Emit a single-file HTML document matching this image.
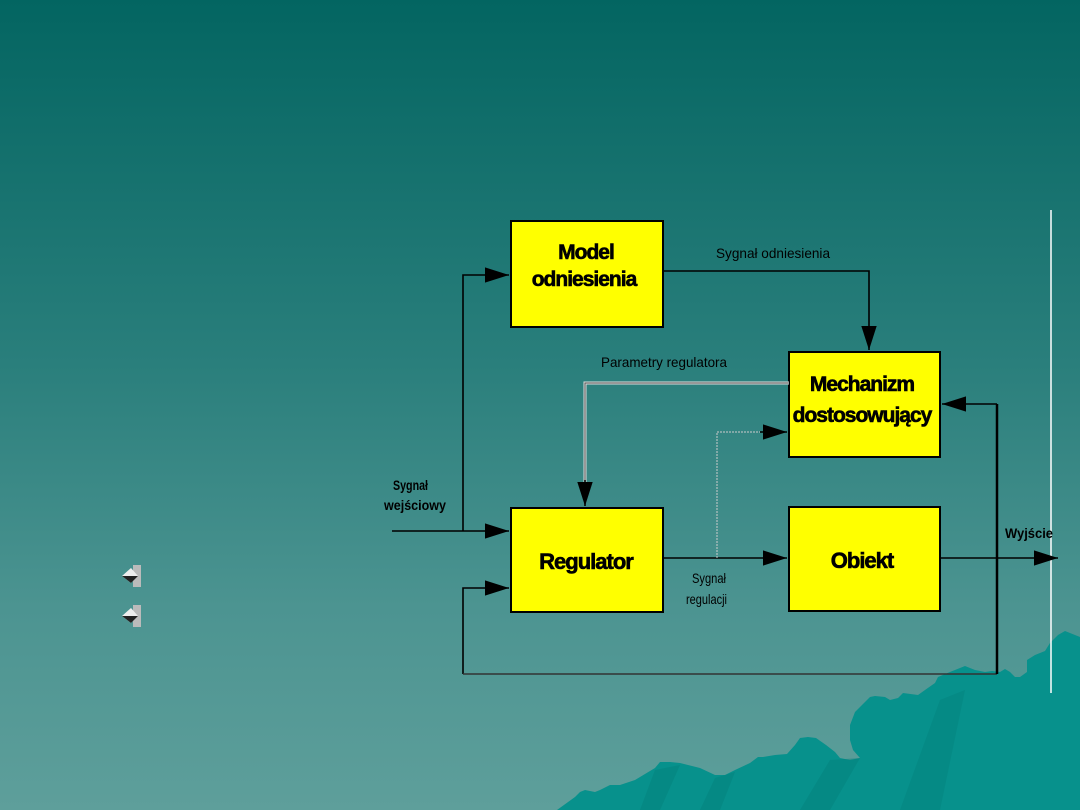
<!DOCTYPE html>
<html><head><meta charset="utf-8"><style>
html,body{margin:0;padding:0}
body{width:1080px;height:810px;overflow:hidden;background:linear-gradient(to bottom,#036561 0%,#2a7f7c 45%,#4c9491 75%,#5e9f9b 100%);position:relative;font-family:"Liberation Sans",sans-serif}
svg{position:absolute;left:0;top:0}
</style></head><body>
<svg width="1080" height="810" viewBox="0 0 1080 810">
<defs>
<marker id="a" viewBox="0 0 10 10" refX="10" refY="5" markerWidth="24" markerHeight="24" markerUnits="userSpaceOnUse" orient="auto"><path d="M0,1.8 L10,5 L0,8.2 z" fill="#000"/></marker>
</defs>
<polygon fill="#07918c" points="557,810 575,797 580,792 585,790 595,792 600,790 610,785 620,785 635,780 655,768 660,762 670,762 680,763 700,768 715,775 725,775 735,770 750,763 758,757 763,757 775,755 787,754 795,745 800,738 808,737 816,738 826,745 835,752 840,758 850,760 860,758 853,750 850,740 850,725 855,712 870,697 875,696 885,697 890,700 898,698 903,693 918,695 925,690 935,683 938,677 950,672 960,668 965,666 975,670 985,672 992,671 1000,672 1005,669 1010,672 1015,677 1020,677 1027,672 1027,660 1035,655 1045,651 1050,643 1058,635 1065,631 1080,637 1080,810"/>
<polygon fill="#037d79" opacity="0.4" points="640,810 655,770 680,765 660,810"/>
<polygon fill="#037d79" opacity="0.4" points="700,810 715,778 735,772 720,810"/>
<polygon fill="#037d79" opacity="0.4" points="800,810 830,760 860,758 830,810"/>
<polygon fill="#037d79" opacity="0.35" points="900,810 940,700 965,690 940,810"/>
<line x1="1051" y1="210" x2="1051" y2="693" stroke="#fff" stroke-width="1.5"/>
<g fill="#ffff00" stroke="#000" stroke-width="2">
<rect x="511" y="221" width="152" height="106"/>
<rect x="789" y="352" width="151" height="105"/>
<rect x="511" y="508" width="152" height="104"/>
<rect x="789" y="507" width="151" height="104"/>
</g>
<g stroke="#000" stroke-width="1.6" fill="none">
<line x1="392" y1="531" x2="509" y2="531" marker-end="url(#a)"/>
<polyline points="463,531 463,275 509,275" marker-end="url(#a)"/>
<polyline points="463,674 463,588 509,588" marker-end="url(#a)"/>
<polyline points="463,674 997,674" stroke="#333"/>
<line x1="997" y1="674" x2="997" y2="404" stroke-width="2.5"/>
<line x1="997" y1="404" x2="942" y2="404" marker-end="url(#a)"/>
<polyline points="663,271 869,271 869,350" marker-end="url(#a)"/>
<line x1="663" y1="558" x2="787" y2="558" marker-end="url(#a)"/>
<line x1="940" y1="558" x2="1058" y2="558" marker-end="url(#a)"/>
<polyline points="717,558 717,432 787,432" stroke="#ccc" stroke-width="1" stroke-dasharray="2,1"/>
<line x1="760" y1="432" x2="787" y2="432" marker-end="url(#a)"/>
<polyline points="789,383 585,383 585,490" stroke="#ddd" stroke-width="3"/>
<polyline points="789,383 585,383 585,490" stroke="#555" stroke-width="1"/>
<line x1="585" y1="480" x2="585" y2="506" marker-end="url(#a)"/>
</g>
<g font-family="Liberation Sans, sans-serif" font-weight="bold" text-anchor="middle" fill="#000" stroke="#000" stroke-width="0.6">
<text x="586" y="259" font-size="21" letter-spacing="-1">Model</text>
<text x="584" y="286" font-size="21" letter-spacing="-1">odniesienia</text>
<text x="862" y="391" font-size="21" letter-spacing="-1">Mechanizm</text>
<text x="862" y="422" font-size="21" letter-spacing="-1">dostosowujący</text>
<text x="586" y="569" font-size="22" letter-spacing="-1">Regulator</text>
<text x="862" y="568" font-size="22" letter-spacing="-1">Obiekt</text>
</g>
<g font-family="Liberation Sans, sans-serif" font-size="14" fill="#000">
<text x="716" y="258" textLength="114" lengthAdjust="spacingAndGlyphs">Sygnał odniesienia</text>
<text x="601" y="367" textLength="126" lengthAdjust="spacingAndGlyphs">Parametry regulatora</text>
<text x="393" y="490" textLength="35" lengthAdjust="spacingAndGlyphs" font-weight="bold">Sygnał</text>
<text x="384" y="510" textLength="62" lengthAdjust="spacingAndGlyphs" font-weight="bold">wejściowy</text>
<text x="692" y="583" textLength="34" lengthAdjust="spacingAndGlyphs">Sygnał</text>
<text x="686" y="604" textLength="41" lengthAdjust="spacingAndGlyphs">regulacji</text>
<text x="1005" y="538" textLength="48" lengthAdjust="spacingAndGlyphs" font-weight="bold">Wyjście</text>
</g>
<g>
<rect x="133" y="565" width="8" height="22" fill="#bbb"/>
<polygon points="122,576 131,568 138,576 131,583" fill="#eee"/>
<polygon points="122,576 138,576 131,583" fill="#222"/>
<rect x="133" y="605" width="8" height="22" fill="#bbb"/>
<polygon points="122,616 131,608 138,616 131,623" fill="#eee"/>
<polygon points="122,616 138,616 131,623" fill="#222"/>
</g>
</svg>
</body></html>
